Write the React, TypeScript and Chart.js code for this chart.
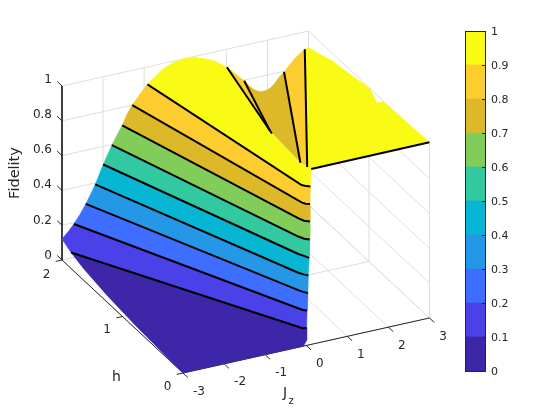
import React, { useEffect, useRef } from "react";
import { Chart, registerables } from "chart.js";

Chart.register(...registerables);

type P2 = [number, number];
type P3 = [number, number, number];

const jzTicks = [-3, -2, -1, 0, 1, 2, 3];
const hTicks = [0, 1, 2];
const fidelityTicks = [0, 0.2, 0.4, 0.6, 0.8, 1];
const colorbarTicks = [0, 0.1, 0.2, 0.3, 0.4, 0.5, 0.6, 0.7, 0.8, 0.9, 1];
const bandColors = [
  "#3D26A8", "#4A42E8", "#3E6EFF", "#2498E6", "#07B6D2",
  "#32C8A0", "#82CD5A", "#DDB92A", "#FDCC2F", "#F9FB15",
];
const contourLevels = [0.1, 0.2, 0.3, 0.4, 0.5, 0.6, 0.7, 0.8, 0.9];

// Contours, as [Jz, h] at the level above
const contour01: P2[] = [[-3.03, 1.83], [-0.13, 0.045], [-0.07, 0.01], [0.01, 0]];
const contour02: P2[] = [[-2.74, 1.98], [-0.11, 0.06], [-0.05, 0.02], [0.02, 0]];
const contour03: P2[] = [[-2.45, 1.98], [-0.09, 0.07], [-0.03, 0.03], [0.04, 0]];
const contour04: P2[] = [[-2.22, 1.98], [-0.09, 0.07], [-0.02, 0.03], [0.05, 0]];
const contour05: P2[] = [[-2.01, 1.99], [-0.06, 0.09], [0, 0.05], [0.07, 0]];
const contour06: P2[] = [[-1.8, 1.99], [-0.06, 0.09], [0.01, 0.04], [0.1, 0.01]];
const contour07: P2[] = [[-1.55, 1.99], [-0.04, 0.1], [0.02, 0.05], [0.12, 0.02]];
const contour08: P2[] = [[-1.29, 2], [-0.01, 0.07], [0.04, 0.04], [0.12, 0.02]];
const contour09: P2[] = [[-0.92, 2], [-0.01, 0.07], [0.04, 0.05], [0.13, 0.02]];
const contours = [contour01, contour02, contour03, contour04, contour05, contour06, contour07, contour08, contour09];

// Folded branches of the contours behind the ridge
const branch09Left: P3[] = [[1, 1.99, 0.9], [0.49, 0.9, 0.9]];
const branch08Left: P3[] = [[1.42, 1.99, 0.8], [0.88, 1.2, 0.8]];
const branch08Right: P3[] = [[2.39, 1.99, 0.8], [0.8, 0.64, 0.8]];
const branch09Right: P3[] = [[2.91, 2, 0.9], [0.48, 0.31, 0.9]];
const topEdge: P3[] = [[0.15, 0.02, 1], [3, 0, 1.01]];

// Surface edges as [Jz, h, fidelity]
const edgeFront: P3[] = [
  [0.01, 0, 0.03], [-0.07, 0, 0], [-3, 0, 0], [-3, 0.765, 0.018], [-3, 1.261, 0.039], [-3, 1.648, 0.067],
];
const cornerBack: P3[] = [[-3, 2, 0.12], [-2.85, 2, 0.155]];
// One point on the h = 2 edge inside each band, from band 0.2-0.3 upward
const edgeMidH2: P3[] = [
  [-2.56, 2, 0.24], [-2.3, 2, 0.342], [-2.09, 2, 0.445], [-1.89, 2, 0.547],
  [-1.66, 2, 0.648], [-1.425, 2, 0.751], [-1.1, 2, 0.854],
];
const ridgeH2: P3[] = [
  [0.846, 2, 0.926], [0.68, 2, 0.952], [0.457, 2, 0.975], [0.24, 2, 0.994], [0.043, 2, 0.9995],
  [-0.13, 2, 0.998], [-0.298, 2, 0.991], [-0.45, 2, 0.977], [-0.59, 2, 0.962], [-0.69, 2, 0.941], [-0.821, 2, 0.92],
];
const dipH2: P3[] = [
  [1.552, 2, 0.763], [1.657, 2, 0.736], [1.759, 2, 0.72], [1.861, 2, 0.711], [1.966, 2, 0.713],
  [2.063, 2, 0.72], [2.173, 2, 0.74], [2.265, 2, 0.767],
];
const shoulderH2: P3[] = [[2.55, 2, 0.831], [2.67, 2, 0.86], [2.79, 2, 0.882]];
const edgeJ3: P3[] = [
  [3, 2, 0.904], [3, 1.59, 0.957], [3, 1.26, 0.977], [3, 0.983, 0.999],
  [3, 0.873, 0.954], [3, 0.764, 0.995], [3, 0.488, 1.0],
];

// Orthographic view of the axes box
const view = { x0: 183, y0: 373, jx: 41.08, jy: -9.17, hx: -60.5, hy: -56.5, z: -174 };
const project = ([j, h, z]: P3) => ({
  x: view.x0 + view.jx * (j + 3) + view.hx * h,
  y: view.y0 + view.jy * (j + 3) + view.hy * h + view.z * z,
});
const at = (c: P2[], z: number): P3[] => c.map(([j, h]) => [j, h, z] as P3);

const INK = "#262626";
const GRID = "#DEDEDE";
const FONT = '"DejaVu Sans"';

const poly = (pts: P3[], color: string) => ({
  data: pts.concat([pts[0]]).map(project),
  showLine: true,
  fill: "shape",
  backgroundColor: color,
  borderColor: color,
  borderWidth: 0.6,
  pointRadius: 0,
  tension: 0,
  clip: false,
});
const stroke = (pts: P3[], color: string, width: number) => ({
  data: pts.map(project),
  showLine: true,
  fill: false,
  borderColor: color,
  backgroundColor: color,
  borderWidth: width,
  pointRadius: 0,
  tension: 0,
  clip: false,
});

function buildDatasets() {
  const out: any[] = [];
  const jMin = jzTicks[0], jMax = jzTicks[jzTicks.length - 1];
  const hMin = hTicks[0], hMax = hTicks[hTicks.length - 1];
  const zMin = fidelityTicks[0], zMax = fidelityTicks[fidelityTicks.length - 1];

  // back walls and floor
  fidelityTicks.forEach((z) => {
    out.push(stroke([[jMin, hMax, z], [jMax, hMax, z], [jMax, hMin, z]], GRID, 1));
  });
  jzTicks.forEach((j) => {
    out.push(stroke([[j, hMin, zMin], [j, hMax, zMin], [j, hMax, zMax]], GRID, 1));
  });
  hTicks.forEach((h) => {
    out.push(stroke([[jMin, h, zMin], [jMax, h, zMin], [jMax, h, zMax]], GRID, 1));
  });

  // box axes
  out.push(stroke([[jMin, hMax, zMax], [jMin, hMax, zMin], [jMin, hMin, zMin], [jMax, hMin, zMin]], INK, 1));
  fidelityTicks.forEach((z) => out.push(stroke([[jMin, hMax, z], [jMin, hMax + 0.08, z]], INK, 1)));
  hTicks.forEach((h) => out.push(stroke([[jMin, h, zMin], [jMin - 0.15, h, zMin]], INK, 1)));
  jzTicks.forEach((j) => out.push(stroke([[j, hMin, zMin], [j, hMin - 0.08, zMin]], INK, 1)));

  // surface behind the ridge
  out.push(poly([branch08Left[0], ...dipH2, ...branch08Right, branch08Left[1]], bandColors[7]));
  out.push(poly([branch08Right[0], ...shoulderH2, branch09Right[0], branch09Right[1], branch08Right[1]], bandColors[8]));
  out.push(poly([branch09Left[0], branch08Left[0], branch08Left[1], branch09Left[1]], bandColors[8]));
  out.push(poly([branch09Right[0], ...edgeJ3, topEdge[1], topEdge[0], branch09Right[1]], bandColors[9]));

  // ridge face
  const c3 = contours.map((c, i) => at(c, contourLevels[i]));
  out.push(poly([
    ...c3[8], topEdge[0], branch09Right[1], branch08Right[1], branch09Left[1], branch09Left[0], ...ridgeH2,
  ], bandColors[9]));

  // front bands, bottom up
  out.push(poly([...c3[0], ...edgeFront], bandColors[0]));
  out.push(poly([...c3[1], ...c3[0].slice().reverse(), ...cornerBack], bandColors[1]));
  for (let i = 1; i < c3.length - 1; i++) {
    out.push(poly([...c3[i + 1], ...c3[i].slice().reverse(), edgeMidH2[i - 1]], bandColors[i + 1]));
  }

  // contour lines
  c3.forEach((c) => out.push(stroke(c, "#000000", 2)));
  [branch09Left, branch08Left, branch08Right, branch09Right, topEdge].forEach((b) => out.push(stroke(b, "#000000", 2)));

  // Chart.js paints the first dataset last
  return out.reverse();
}

const labelPlugin = {
  id: "axisLabels",
  afterDatasetsDraw(chart: any) {
    const { ctx, scales } = chart;
    const px = (p: P3) => {
      const q = project(p);
      return { x: scales.x.getPixelForValue(q.x), y: scales.y.getPixelForValue(q.y) };
    };
    const jMin = jzTicks[0], hMax = hTicks[hTicks.length - 1];
    ctx.save();
    ctx.fillStyle = INK;
    ctx.textBaseline = "middle";
    ctx.font = `12px ${FONT}`;
    ctx.textAlign = "right";
    fidelityTicks.forEach((z) => {
      const q = px([jMin, hMax, z]);
      ctx.fillText(String(z), q.x - 10, q.y - 4.3 - 2 * z);
    });
    ctx.textAlign = "center";
    hTicks.forEach((h) => {
      const q = px([jMin, h, 0]);
      ctx.fillText(String(h), q.x - 15.5, q.y + 13.5 + (h === hMax ? 1 : 0));
    });
    jzTicks.forEach((j) => {
      const q = px([j, 0, 0]);
      ctx.fillText(String(j), q.x + (j < 0 ? 16 : 13.5), q.y + 18.5);
    });
    ctx.font = `14px ${FONT}`;
    const h = px([jMin, 1, 0]);
    ctx.fillText("h", h.x - 6, h.y + 60.8);
    const j = px([-1, 0, 0]);
    ctx.fillText("J", j.x + 20, j.y + 39);
    ctx.font = `10px ${FONT}`;
    ctx.fillText("z", j.x + 26, j.y + 47);
    const f = px([jMin, hMax, 0.5]);
    ctx.translate(f.x - 47, f.y);
    ctx.rotate(-Math.PI / 2);
    ctx.font = `14.5px ${FONT}`;
    ctx.fillText("Fidelity", 0, 0);
    ctx.restore();
  },
};

const colorbarPlugin = {
  id: "colorbarFrame",
  afterDatasetsDraw(chart: any) {
    const { ctx, chartArea: a, scales } = chart;
    ctx.save();
    ctx.strokeStyle = INK;
    ctx.lineWidth = 1;
    colorbarTicks.forEach((t) => {
      const y = Math.round(scales.y.getPixelForValue(t)) + 0.5;
      ctx.beginPath();
      ctx.moveTo(a.right, y);
      ctx.lineTo(a.right - 3, y);
      ctx.stroke();
    });
    ctx.strokeRect(Math.round(a.left) + 0.5, Math.round(a.top) + 0.5, Math.round(a.width), Math.round(a.height));
    ctx.restore();
  },
};

export default function App() {
  const mainRef = useRef<HTMLCanvasElement>(null);
  const barRef = useRef<HTMLCanvasElement>(null);

  useEffect(() => {
    const main = new Chart(mainRef.current as HTMLCanvasElement, {
      type: "scatter",
      data: { datasets: buildDatasets() as any },
      plugins: [labelPlugin],
      options: {
        animation: false,
        responsive: false,
        layout: { padding: 0 },
        plugins: { legend: { display: false }, tooltip: { enabled: false } },
        events: [],
        scales: {
          x: { type: "linear", display: false, min: 0, max: 560 },
          y: { type: "linear", display: false, min: 0, max: 420, reverse: true },
        },
      },
    } as any);

    const bar = new Chart(barRef.current as HTMLCanvasElement, {
      type: "bar",
      data: {
        labels: [""],
        datasets: bandColors.map((c) => ({
          data: [0.1],
          backgroundColor: c,
          borderWidth: 0,
          categoryPercentage: 1,
          barPercentage: 1,
        })),
      },
      plugins: [colorbarPlugin],
      options: {
        animation: false,
        responsive: false,
        layout: { padding: { left: 25, top: 31, bottom: 49, right: 0 } },
        plugins: { legend: { display: false }, tooltip: { enabled: false } },
        events: [],
        scales: {
          x: { stacked: true, display: false },
          y: {
            stacked: true,
            position: "right",
            min: 0,
            max: 1,
            afterBuildTicks: (s: any) => {
              s.ticks = colorbarTicks.map((value) => ({ value }));
            },
            afterFit: (s: any) => {
              s.width = 75;
            },
            grid: { display: false, drawTicks: false },
            border: { display: false },
            ticks: {
              padding: 6,
              labelOffset: 1,
              color: INK,
              font: { family: FONT, size: 11 },
              autoSkip: false,
              callback: (v: any) => String(Math.round(v * 10) / 10),
            },
          },
        },
      },
    } as any);

    return () => {
      main.destroy();
      bar.destroy();
    };
  }, []);

  return (
    <div style={{ position: "absolute", left: 0, top: 0, width: 560, height: 420, background: "#fff" }}>
      <canvas ref={mainRef} width={560} height={420} style={{ position: "absolute", left: 0, top: 0 }} />
      <canvas ref={barRef} width={120} height={420} style={{ position: "absolute", left: 440, top: 0 }} />
    </div>
  );
}
